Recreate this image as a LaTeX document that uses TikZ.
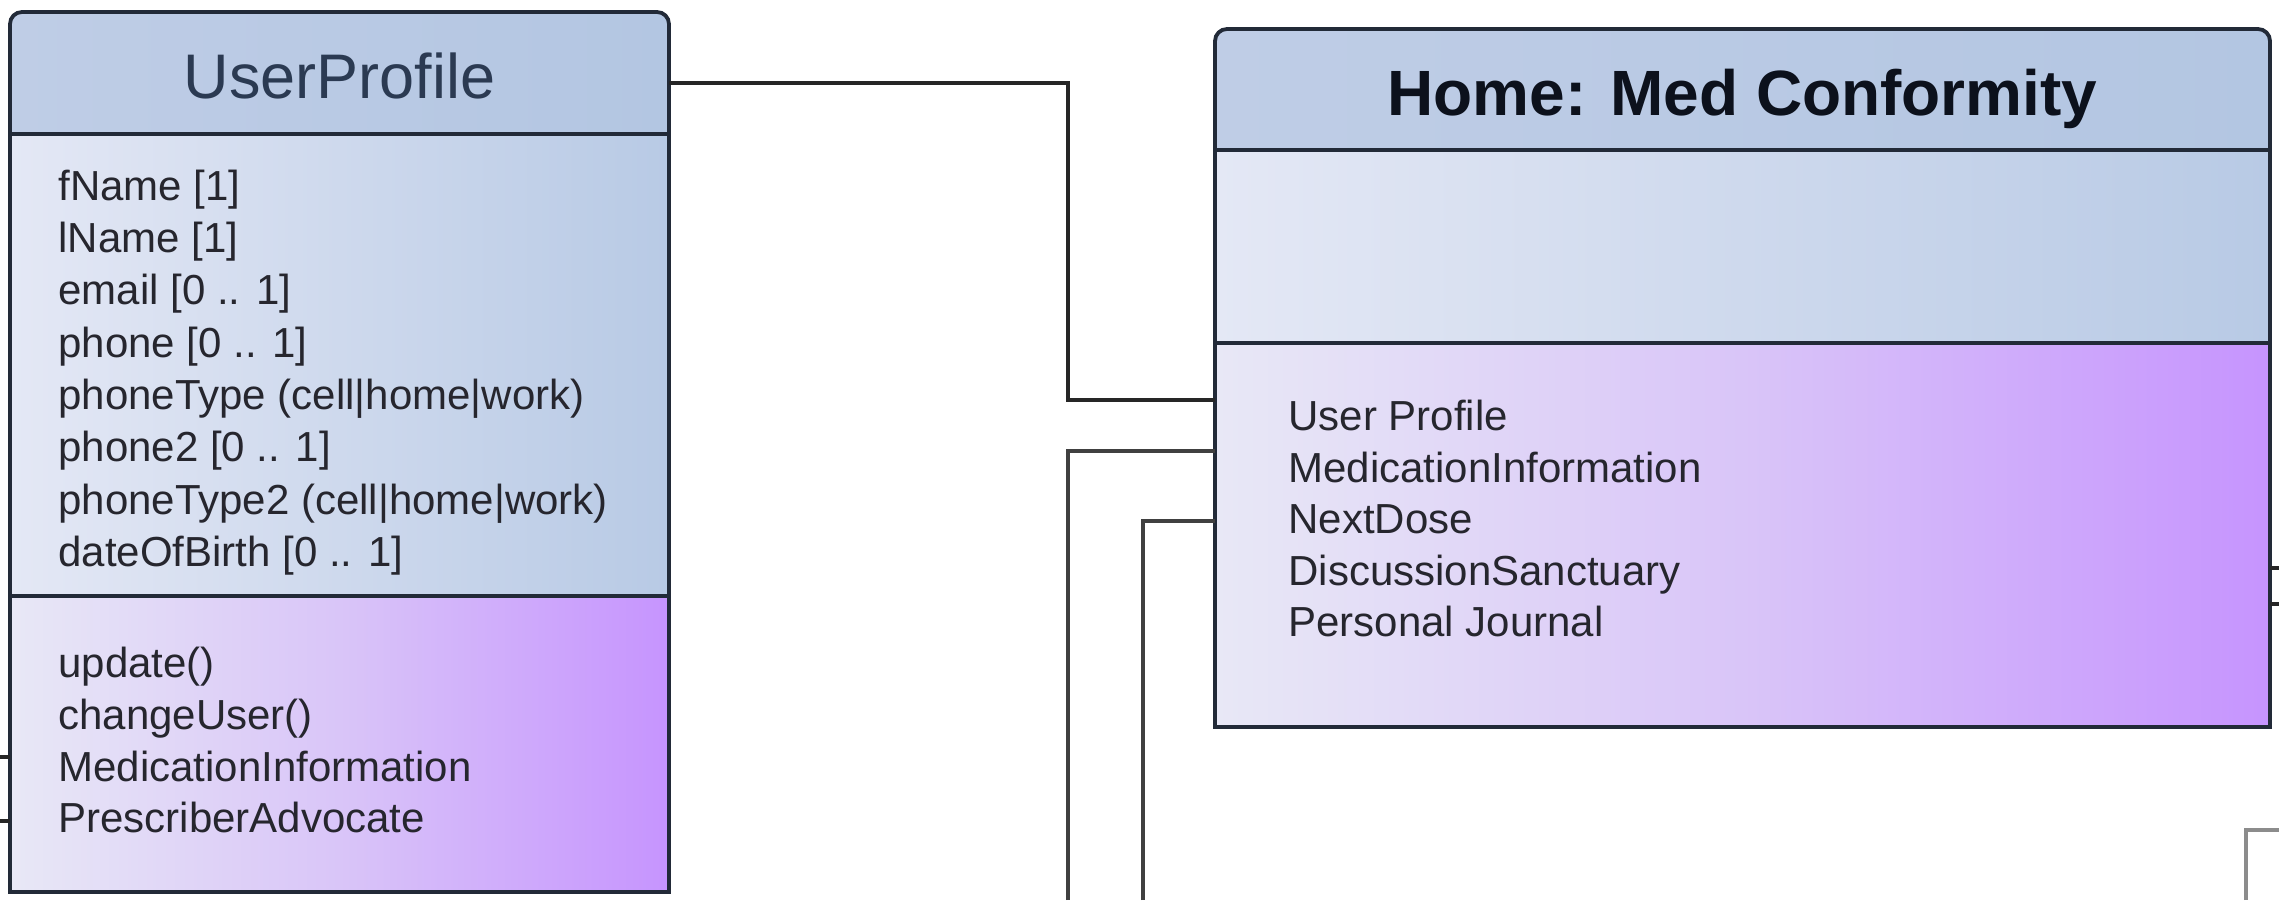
\documentclass[tikz,border=0pt]{standalone}
\usepackage{fontspec}
\setmainfont{Liberation Sans}
\definecolor{boxline}{HTML}{222A38}
\definecolor{titleL}{HTML}{BFCDE6}
\definecolor{titleR}{HTML}{B3C6E2}
\definecolor{attrL}{HTML}{E4E8F5}
\definecolor{attrR}{HTML}{B8CAE5}
\definecolor{opsL}{HTML}{E8E8F6}
\definecolor{opsM}{HTML}{D9C5F8}
\definecolor{opsR}{HTML}{C694FE}
\definecolor{itemtext}{HTML}{26262E}
\definecolor{titletext}{HTML}{2B3A52}
\definecolor{hometext}{HTML}{0C111C}
\definecolor{connA}{HTML}{262626}
\definecolor{connB}{HTML}{404040}
\definecolor{nboxc}{HTML}{8C8C8C}
\begin{document}
\begin{tikzpicture}[x=0.5pt,y=-0.5pt,
  compart/.style={draw=boxline, line width=1.9pt, rectangle, inner sep=0pt, outer sep=0pt, anchor=north west},
  titleband/.style={compart, rounded corners=6pt, left color=titleL, right color=titleR},
  attrband/.style={compart, left color=attrL, right color=attrR},
  opsband/.style={compart, left color=opsL, right color=opsR, middle color=opsM},
  item/.style={anchor=base west, inner sep=0pt, text=itemtext, font=\fontsize{21pt}{26pt}\selectfont},
  conn/.style={draw=connA, line width=1.9pt},
  conngray/.style={draw=connB, line width=1.9pt},
  nbox/.style={draw=nboxc, line width=2.4pt}
]
\useasboundingbox (0,0) rectangle (2279,900);

% ---------- UserProfile ----------
\node[titleband, minimum width=329.5pt, minimum height=74pt] (upTitle) at (10,12) {};
\node[attrband, minimum width=329.5pt, minimum height=231pt] (upAttr) at (10,134) {};
\node[opsband, minimum width=329.5pt, minimum height=148pt] (upOps) at (10,596) {};
\node[anchor=base, inner sep=0pt, text=titletext, font=\fontsize{31.5pt}{36pt}\selectfont] (upName) at (339.5,98) {UserProfile};

\node[item] (a1) at (58,200) {fName [1]};
\node[item] (a2) at (58,252) {lName [1]};
\node[item] (a3) at (58,304) {email [0 .. 1]};
\node[item] (a4) at (58,357) {phone [0 .. 1]};
\node[item] (a5) at (58,409) {phoneType (cell|home|work)};
\node[item] (a6) at (58,461) {phone2 [0 .. 1]};
\node[item] (a7) at (58,514) {phoneType2 (cell|home|work)};
\node[item] (a8) at (58,566) {dateOfBirth [0 .. 1]};

\node[item] (o1) at (58,677) {update()};
\node[item] (o2) at (58,729) {changeUser()};
\node[item] (o3) at (58,781) {MedicationInformation};
\node[item] (o4) at (58,832) {PrescriberAdvocate};

% ---------- Home: Med Conformity ----------
\node[titleband, minimum width=527.5pt, minimum height=73pt] (homeTitle) at (1215,29) {};
\node[attrband, minimum width=527.5pt, minimum height=96.5pt] (homeMid) at (1215,150) {};
\node[opsband, minimum width=527.5pt, minimum height=192pt] (homeOps) at (1215,343) {};
\node[anchor=base, inner sep=0pt, text=hometext, font=\bfseries\fontsize{32pt}{38pt}\selectfont] (homeName) at (1742.5,115) {Home: Med Conformity};

\node[item] (h1t) at (1288,430) {User Profile};
\node[item] (h2t) at (1288,482) {MedicationInformation};
\node[item] (h3t) at (1288,533) {NextDose};
\node[item] (h4t) at (1288,585) {DiscussionSanctuary};
\node[item] (h5t) at (1288,636) {Personal Journal};

% ---------- connectors ----------
\coordinate (j1) at (1068,400);
\draw[conn] ([yshift=1.5pt]upTitle.east) -| (j1) -- (homeOps.west |- j1);

\coordinate (b2) at (1068,900);
\coordinate (k2) at (1068,451);
\draw[conngray] (b2) |- (homeOps.west |- k2);

\coordinate (b3) at (1143,900);
\coordinate (k3) at (1143,521);
\draw[conngray] (b3) |- (homeOps.west |- k3);

\coordinate (l1) at (0,757);
\coordinate (l2) at (0,821);
\draw[conn] (l1) -- (upOps.west |- l1);
\draw[conn] (l2) -- (upOps.west |- l2);

\coordinate (r1) at (2279,568);
\coordinate (r2) at (2279,604);
\draw[conn] (homeOps.east |- r1) -- (r1);
\draw[conn] (homeOps.east |- r2) -- (r2);

\coordinate (q0) at (2246,900);
\coordinate (q1) at (2279,830);
\draw[nbox] (q0) |- (q1);
\end{tikzpicture}
\end{document}
